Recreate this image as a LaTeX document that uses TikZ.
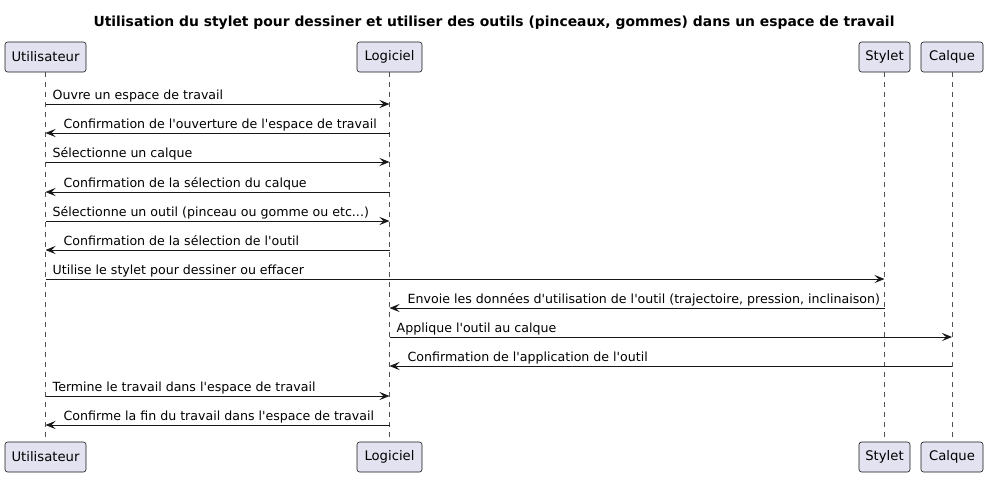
\documentclass[tikz,border=0pt]{standalone}
\usepackage{fontspec}
\setmainfont{DejaVu Sans}
\usetikzlibrary{arrows.meta}
\definecolor{pfill}{HTML}{E2E2F0}
\definecolor{ink}{HTML}{181818}
\tikzset{
  part/.style={draw=ink, fill=pfill, rounded corners=2.5pt, minimum height=30pt,
    inner xsep=0pt, line width=0.6pt, font=\fontsize{13.2}{15}\selectfont, text=black},
  lifeline/.style={draw=ink!75, line width=0.5pt, dash pattern=on 5pt off 5pt},
  msg/.style={draw=ink, line width=0.9pt, -{Stealth[length=10pt,width=8pt,inset=4pt]}},
  lbl/.style={anchor=base west, inner sep=0pt, font=\fontsize{12.6}{15}\selectfont, text=black},
  ttl/.style={anchor=base, inner sep=0pt, font=\fontsize{13.9}{16}\bfseries\selectfont, text=black}
}
\newcommand{\q}{\textquotesingle}
\newcommand{\rmsg}[4]{%
  \draw[msg] (#1 |- 0,#3) -- (#2 |- 0,#3);
  \path (#1 |- 0,#3) ++(7,-4.8) node[lbl] {#4};}
\newcommand{\lmsg}[4]{%
  \draw[msg] (#1 |- 0,#3) -- (#2 |- 0,#3);
  \path (#2 |- 0,#3) ++(18,-4.8) node[lbl] {#4};}
\begin{document}
\begin{tikzpicture}[x=1pt,y=-1pt]
\useasboundingbox[fill=white] (0,0) rectangle (988,477);
\node[ttl] (title) at (494,26.5) {Utilisation du stylet pour dessiner et utiliser des outils (pinceaux, gommes) dans un espace de travail};
% participants
\node[part, minimum width=81pt] (uT) at (45.5,57) {Utilisateur};
\node[part, minimum width=65pt] (lT) at (389.5,57) {Logiciel};
\node[part, minimum width=51pt] (sT) at (884.5,57) {Stylet};
\node[part, minimum width=62pt] (cT) at (952,57) {Calque};
\node[part, minimum width=81pt] (uB) at (45.5,457) {Utilisateur};
\node[part, minimum width=65pt] (lB) at (389.5,457) {Logiciel};
\node[part, minimum width=51pt] (sB) at (884.5,457) {Stylet};
\node[part, minimum width=62pt] (cB) at (952,457) {Calque};
% lifelines
\draw[lifeline] (uT.south) -- (uB.north);
\draw[lifeline] (lT.south) -- (lB.north);
\draw[lifeline] (sT.south) -- (sB.north);
\draw[lifeline] (cT.south) -- (cB.north);
% messages
\rmsg{uT}{lT}{104}{Ouvre un espace de travail}
\lmsg{lT}{uT}{133}{Confirmation de l\q ouverture de l\q espace de travail}
\rmsg{uT}{lT}{162}{Sélectionne un calque}
\lmsg{lT}{uT}{192}{Confirmation de la sélection du calque}
\rmsg{uT}{lT}{221}{Sélectionne un outil (pinceau ou gomme ou etc...)}
\lmsg{lT}{uT}{250}{Confirmation de la sélection de l\q outil}
\rmsg{uT}{sT}{279}{Utilise le stylet pour dessiner ou effacer}
\lmsg{sT}{lT}{308}{Envoie les données d\q utilisation de l\q outil (trajectoire, pression, inclinaison)}
\rmsg{lT}{cT}{337}{Applique l\q outil au calque}
\lmsg{cT}{lT}{366}{Confirmation de l\q application de l\q outil}
\rmsg{uT}{lT}{396}{Termine le travail dans l\q espace de travail}
\lmsg{lT}{uT}{425}{Confirme la fin du travail dans l\q espace de travail}
\end{tikzpicture}
\end{document}
